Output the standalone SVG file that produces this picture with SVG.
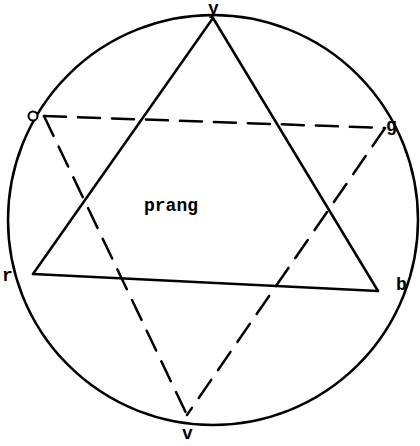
<svg xmlns="http://www.w3.org/2000/svg" width="420" height="446" viewBox="0 0 420 446">
<style>
.ln{fill:none;stroke:#000;stroke-width:2.5;stroke-linecap:round}
.dash{stroke-dasharray:22 12}
.lbl{font-family:"Liberation Mono","DejaVu Sans Mono",monospace;font-size:18px;font-weight:bold;fill:#000}
</style>
<rect width="420" height="446" fill="#fff"/>
<g id="connectors">
<circle id="circle" class="ln" cx="213" cy="220" r="205"/>
<g id="solid-triangle">
<line class="ln" x1="213" y1="18" x2="33" y2="274"/>
<line class="ln" x1="213" y1="18" x2="378" y2="291"/>
<line class="ln" x1="33" y1="274" x2="378" y2="291"/>
</g>
<g id="dashed-triangle">
<line class="ln dash" x1="44" y1="116" x2="385" y2="128"/>
<line class="ln dash" x1="44" y1="116" x2="187" y2="415"/>
<line class="ln dash" x1="385" y1="128" x2="187" y2="415"/>
</g>
</g>
<g id="node-y"><text class="lbl" x="208" y="14">y</text></g>
<g id="node-o"><circle cx="33" cy="116" r="4.5" fill="#fff" stroke="#000" stroke-width="2"/></g>
<g id="node-g"><text class="lbl" x="386" y="131">g</text></g>
<g id="node-r"><text class="lbl" x="2" y="281">r</text></g>
<g id="node-b"><text class="lbl" x="396" y="290">b</text></g>
<g id="node-v"><text class="lbl" x="182" y="439" font-size="16">v</text></g>
<g id="label-prang"><text class="lbl" x="144" y="211">prang</text></g>
</svg>
